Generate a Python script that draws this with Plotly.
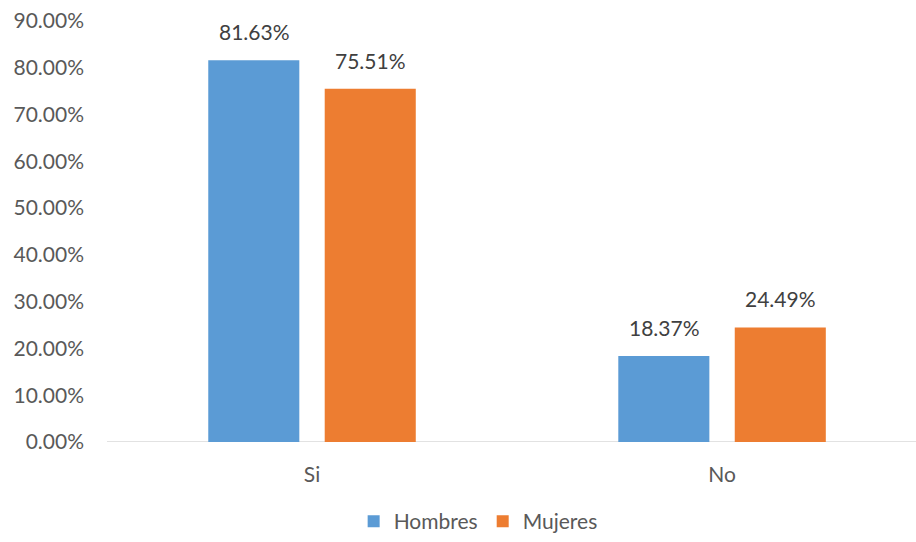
import plotly.graph_objects as go

categories = ["Si", "No"]
hombres = [0.8163, 0.1837]
mujeres = [0.7551, 0.2449]
series_names = ["Hombres", "Mujeres"]
colors = ["#5B9BD5", "#ED7D31"]
y_ticks = [0.0, 0.1, 0.2, 0.3, 0.4, 0.5, 0.6, 0.7, 0.8, 0.9]

FONT = "Lato, 'Open Sans', sans-serif"
FS = 21

fig = go.Figure()
for name, vals, col in zip(series_names, [hombres, mujeres], colors):
    fig.add_trace(go.Bar(
        x=categories, y=vals, name=name,
        marker=dict(color=col, line=dict(width=0)),
    ))

# value labels above each bar
for vals, shift in [(hombres, -58), (mujeres, 58)]:
    for cat, v in zip(categories, vals):
        fig.add_annotation(
            x=cat, y=v, text=f"{v*100:.2f}%", showarrow=False,
            xshift=shift, yshift=14, yanchor="bottom",
            font=dict(family=FONT, size=FS, color="#404040"),
        )

fig.update_layout(
    width=916, height=542,
    margin=dict(l=107, r=0, t=21, b=100, autoexpand=False),
    paper_bgcolor="white", plot_bgcolor="white",
    barmode="group", bargap=0.432, bargroupgap=0.218,
    font=dict(family=FONT, size=FS, color="#595959"),
    showlegend=True,
    legend=dict(orientation="h", xref="container", x=0.522, xanchor="center",
                yref="container", y=-0.012, yanchor="bottom",
                font=dict(family=FONT, size=FS, color="#595959"),
                itemwidth=30, traceorder="normal"),
    xaxis=dict(type="category", range=[-0.5, 1.473], showgrid=False,
               showline=False, zeroline=False, ticks="",
               ticklabelstandoff=18, tickfont=dict(size=FS, color="#595959")),
    yaxis=dict(range=[0, 0.9], tickvals=y_ticks, tickformat=".2%",
               showgrid=False, zeroline=False, showline=False, ticks="",
               ticklabelstandoff=22, tickfont=dict(size=FS, color="#595959")),
)

# baseline along the category axis
fig.add_shape(type="line", xref="paper", yref="y", x0=0, x1=1, y0=0, y1=0,
              line=dict(color="#D9D9D9", width=1.5), layer="below")

fig.write_html("out.html")
